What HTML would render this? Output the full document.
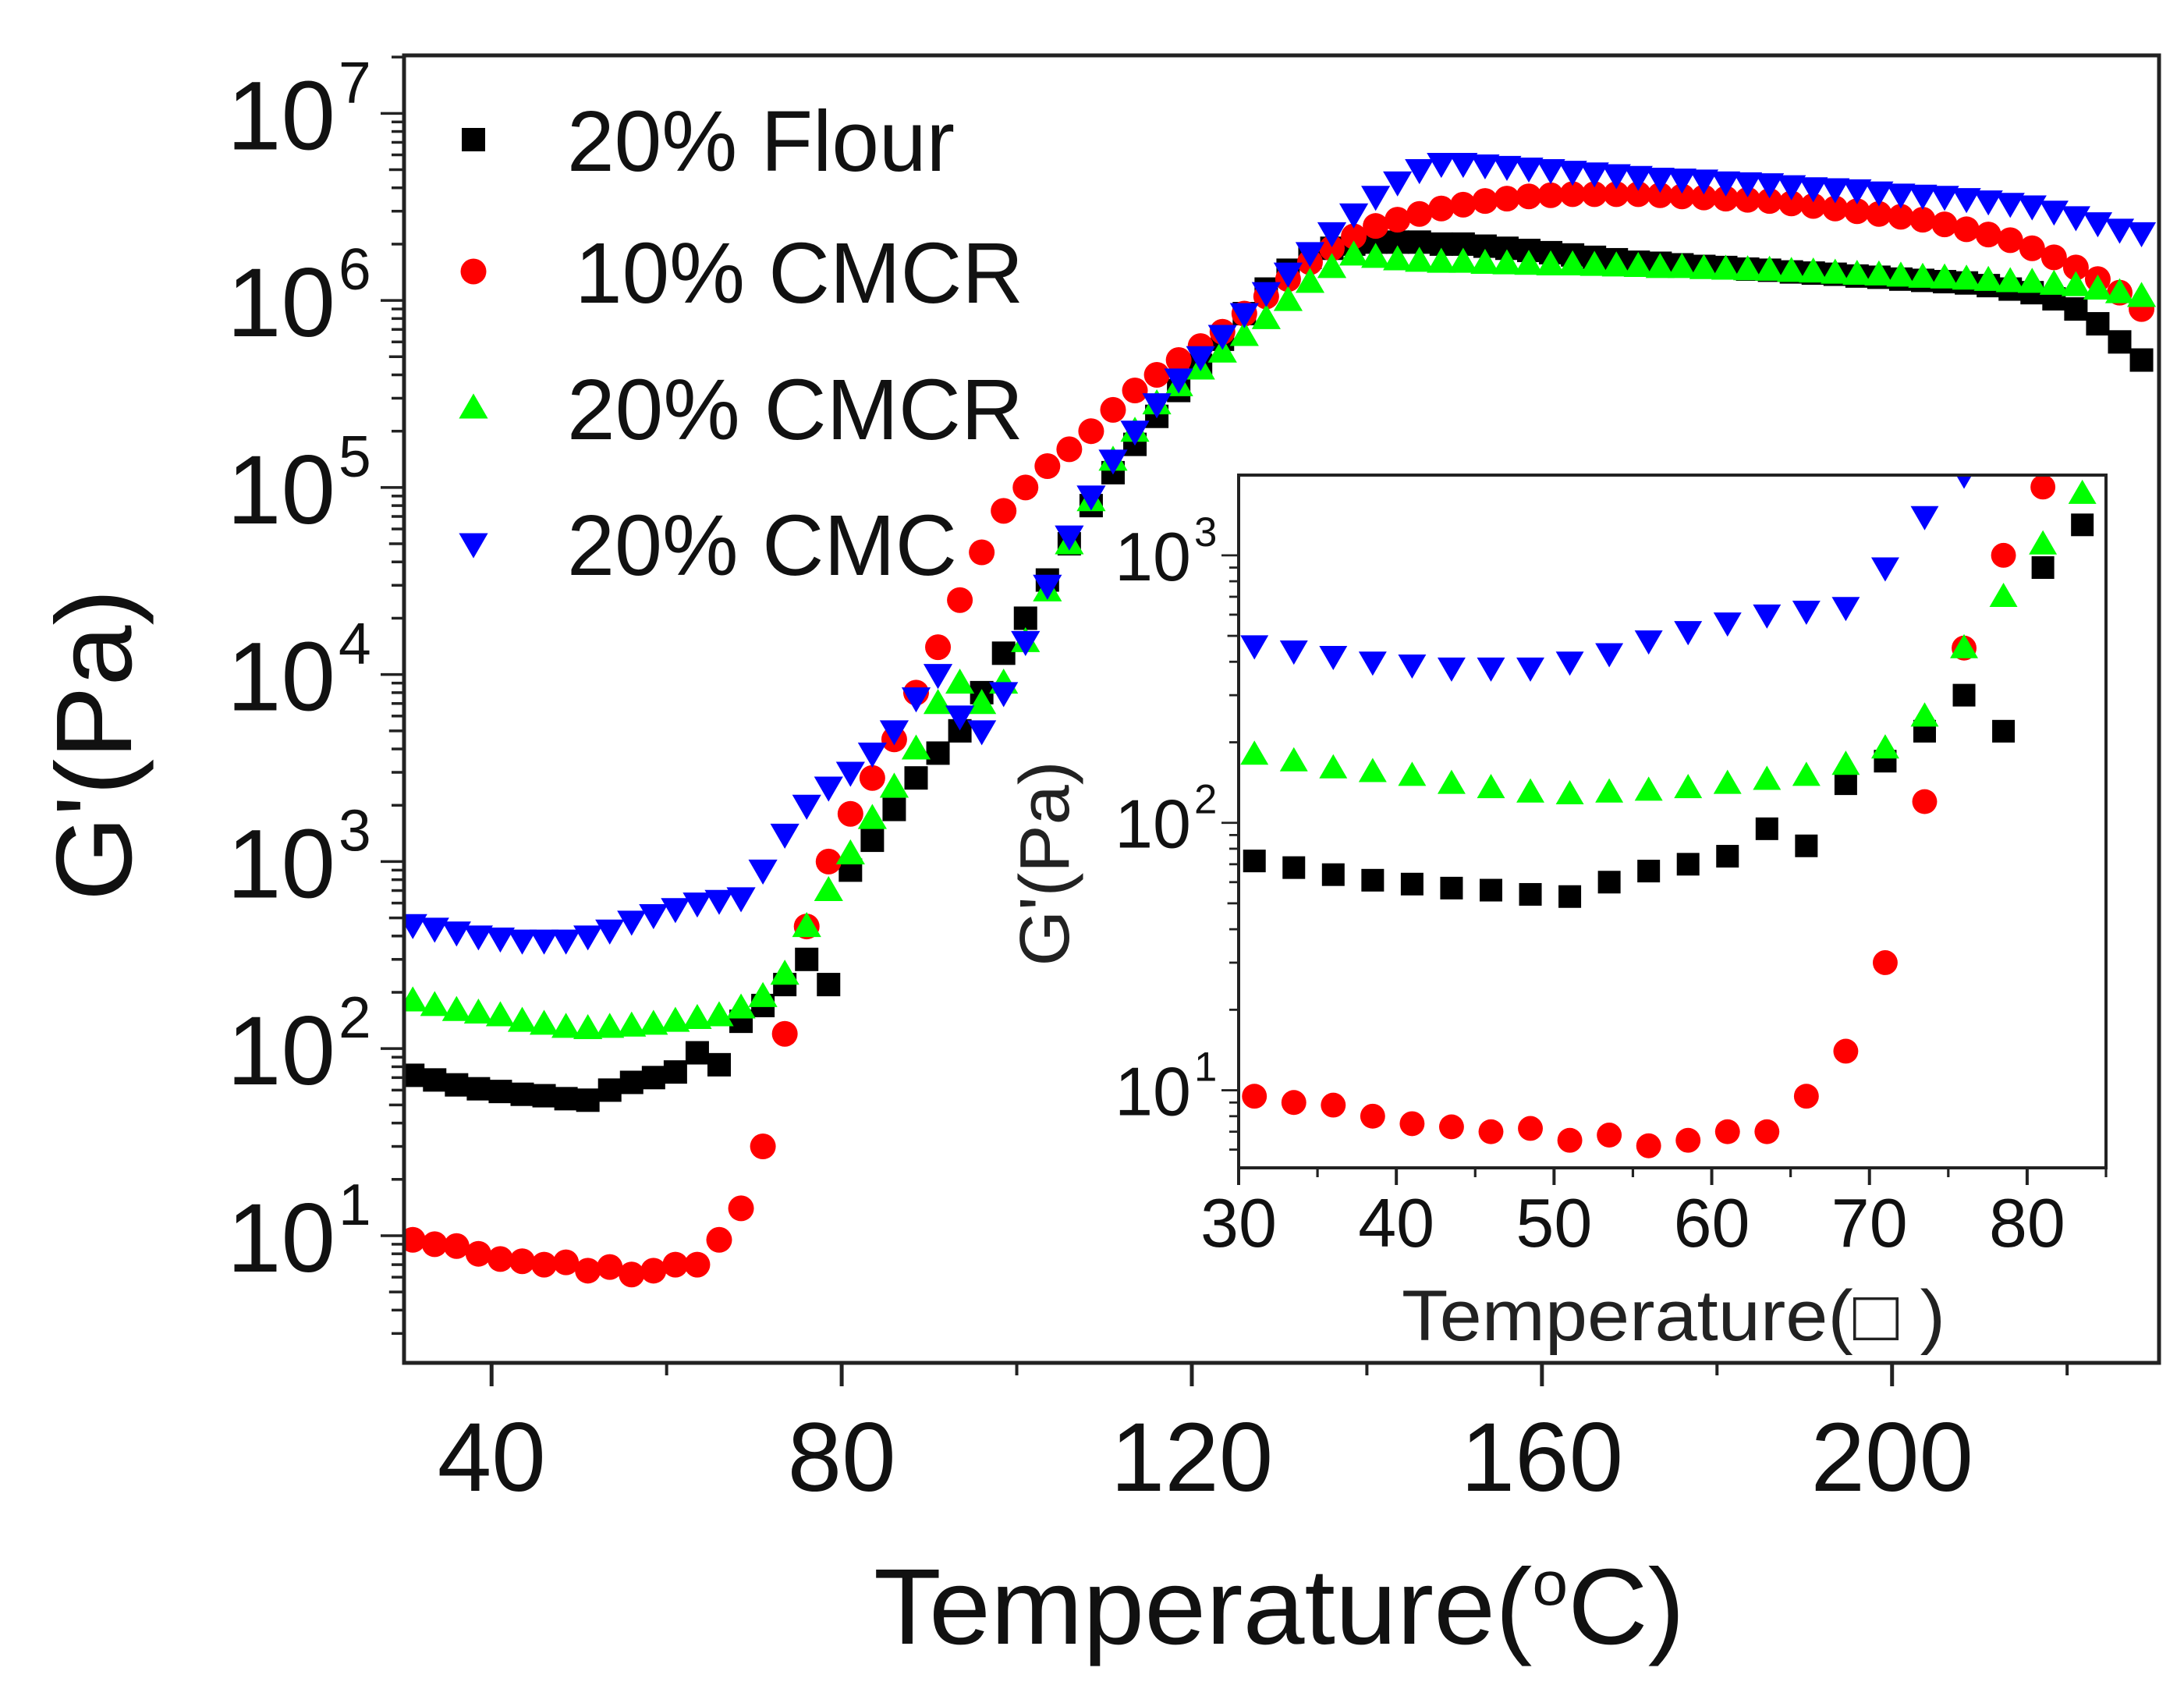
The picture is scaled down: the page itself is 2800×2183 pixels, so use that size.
<!DOCTYPE html>
<html><head><meta charset="utf-8"><style>
html,body{margin:0;padding:0;background:#fff}
svg{display:block;font-family:"Liberation Sans",Arial,sans-serif}
</style></head><body>
<svg id="chart" width="2800" height="2183" viewBox="0 0 2800 2183" xmlns="http://www.w3.org/2000/svg">
<rect width="2800" height="2183" fill="#fff"/>
<g id="main"></g>
<g id="inset"></g>
<g id="legend"></g>
</svg>
<script>
const temps = [];
for (let i = 0; i < 80; i++) temps.push(31 + 2.5 * i);
const seriesNames = ["20% Flour", "10% CMCR", "20% CMCR", "20% CMC"];
const flour = [72,68,64,61,59,57,56,54,53,60,66,70,75,95,82,140,170,220,300,220,900,1300,1900,2800,3800,5000,8000,13000,20000,32000,50000,80000,120000,170000,240000,330000,450000,620000,850000,1.15e6,1.45e6,1.7e6,1.9e6,2.0e6,2.05e6,2.05e6,2.05e6,2.0e6,2.0e6,1.95e6,1.9e6,1.85e6,1.8e6,1.75e6,1.7e6,1.65e6,1.6e6,1.58e6,1.55e6,1.52e6,1.5e6,1.47e6,1.45e6,1.42e6,1.4e6,1.38e6,1.35e6,1.33e6,1.3e6,1.28e6,1.26e6,1.24e6,1.2e6,1.15e6,1.1e6,1.02e6,9e5,7.5e5,6e5,4.8e5];
const cmcr10 = [9.5,9,8.8,8,7.5,7.3,7,7.2,6.5,6.8,6.2,6.5,7,7,9.5,14,30,120,450,1000,1800,2800,4500,8000,14000,25000,45000,75000,100000,130000,160000,200000,260000,330000,400000,480000,570000,680000,850000,1.05e6,1.3e6,1.6e6,1.9e6,2.2e6,2.5e6,2.7e6,2.9e6,3.1e6,3.25e6,3.4e6,3.5e6,3.6e6,3.65e6,3.7e6,3.7e6,3.7e6,3.7e6,3.65e6,3.6e6,3.55e6,3.5e6,3.45e6,3.4e6,3.3e6,3.2e6,3.1e6,3.0e6,2.9e6,2.8e6,2.7e6,2.55e6,2.4e6,2.25e6,2.1e6,1.9e6,1.7e6,1.5e6,1.3e6,1.1e6,9e5];
const cmcr20 = [180,170,160,155,150,140,135,130,128,130,132,135,140,145,150,165,190,250,450,700,1100,1700,2500,4000,7000,9000,7000,9000,15000,28000,50000,85000,140000,200000,280000,350000,430000,530000,650000,800000,1.0e6,1.25e6,1.5e6,1.75e6,1.7e6,1.65e6,1.62e6,1.6e6,1.6e6,1.58e6,1.57e6,1.56e6,1.55e6,1.55e6,1.54e6,1.53e6,1.52e6,1.5e6,1.5e6,1.48e6,1.47e6,1.46e6,1.45e6,1.43e6,1.42e6,1.4e6,1.38e6,1.37e6,1.35e6,1.33e6,1.32e6,1.3e6,1.28e6,1.26e6,1.25e6,1.22e6,1.2e6,1.15e6,1.1e6,1.05e6];
const cmc20 = [460,440,420,400,390,380,380,380,400,430,480,520,560,600,620,640,900,1400,2000,2500,3000,3800,5000,7500,10000,6000,5000,8000,15000,30000,55000,90000,140000,200000,280000,380000,500000,650000,850000,1.1e6,1.4e6,1.8e6,2.3e6,2.9e6,3.6e6,4.3e6,5.0e6,5.4e6,5.4e6,5.3e6,5.2e6,5.1e6,5.0e6,4.9e6,4.8e6,4.7e6,4.6e6,4.5e6,4.45e6,4.4e6,4.3e6,4.25e6,4.2e6,4.1e6,4.0e6,3.95e6,3.9e6,3.8e6,3.7e6,3.65e6,3.6e6,3.5e6,3.4e6,3.3e6,3.2e6,3.0e6,2.8e6,2.6e6,2.4e6,2.3e6];
const xTicksMain = [40, 80, 120, 160, 200];
const yDecadesMain = [1, 2, 3, 4, 5, 6, 7];
const xTicksInset = [30, 40, 50, 60, 70, 80];
const yDecadesInset = [1, 2, 3];

const NS = "http://www.w3.org/2000/svg";
function mk(tag, attrs, parent) {
  const e = document.createElementNS(NS, tag);
  for (const k in attrs) e.setAttribute(k, attrs[k]);
  parent.appendChild(e);
  return e;
}
const styles = [
  {fill: "#000000", shape: "square"},
  {fill: "#ff0000", shape: "circle"},
  {fill: "#00ff00", shape: "up"},
  {fill: "#0000ff", shape: "down"}
];
const allSeries = [flour, cmcr10, cmcr20, cmc20];

function marker(g, shape, x, y, s, fill) {
  let e;
  if (shape === "square") e = mk("rect", {x: x - s/2, y: y - s/2, width: s, height: s, fill: fill}, g);
  else if (shape === "circle") e = mk("circle", {cx: x, cy: y, r: s * 0.55, fill: fill}, g);
  else if (shape === "up") e = mk("polygon", {points: `${x},${y - s*0.62} ${x - s*0.62},${y + s*0.45} ${x + s*0.62},${y + s*0.45}`, fill: fill}, g);
  else e = mk("polygon", {points: `${x},${y + s*0.62} ${x - s*0.62},${y - s*0.45} ${x + s*0.62},${y - s*0.45}`, fill: fill}, g);
  return e;
}

function drawPanel(g, P, opt) {
  const xs = t => P.l + (t - P.x0) / (P.x1 - P.x0) * (P.r - P.l);
  const ys = v => P.b - (Math.log10(v) - P.y0) / (P.y1 - P.y0) * (P.b - P.t);
  const clipId = opt.prefix + "-clip";
  const defs = mk("defs", {}, g);
  const cp = mk("clipPath", {id: clipId}, defs);
  mk("rect", {x: P.l, y: P.t, width: P.r - P.l, height: P.b - P.t}, cp);
  const dg = mk("g", {"clip-path": `url(#${clipId})`}, g);
  
  
  allSeries.forEach((arr, si) => {
    const sg = mk("g", {}, dg);
    
    
    arr.forEach((v, i) => {
      const t = temps[i];
      if (t < P.x0 - 2 || t > P.x1 + 2) return;
      const m = marker(sg, styles[si].shape, xs(t), ys(v), opt.ms, styles[si].fill);
      
      
    });
  });
  const fr = mk("rect", {x: P.l, y: P.t, width: P.r - P.l, height: P.b - P.t, fill: "none", stroke: "#222", "stroke-width": opt.sw}, g);
  
  
  const xg = mk("g", {}, g);
  
  
  for (let t = opt.xMinorStart; t <= P.x1; t += opt.xMinorStep) {
    mk("line", {x1: xs(t), x2: xs(t), y1: P.b, y2: P.b + opt.minorLen, stroke: "#222", "stroke-width": opt.sw * 0.8}, xg);
  }
  opt.xTicks.forEach(t => {
    mk("line", {x1: xs(t), x2: xs(t), y1: P.b, y2: P.b + opt.majorLen, stroke: "#222", "stroke-width": opt.sw}, xg);
    const tx = mk("text", {x: xs(t), y: opt.xLabelY, "font-size": opt.xfs, "text-anchor": "middle", fill: "#111"}, xg);
    tx.textContent = t;
    
    
  });
  const yg = mk("g", {}, g);
  
  
  for (let d = Math.floor(P.y0); d < P.y1; d++) {
    for (let k = 1; k <= 9; k++) {
      const lv = d + Math.log10(k);
      if (lv < P.y0 || lv > P.y1) continue;
      const len = k === 1 ? opt.majorLen : (k === 5 ? opt.minorLen * 1.2 : opt.minorLen);
      mk("line", {x1: P.l - len, x2: P.l, y1: ys(Math.pow(10, lv)), y2: ys(Math.pow(10, lv)), stroke: "#222", "stroke-width": opt.sw * 0.7}, yg);
    }
  }
  opt.yDecades.forEach(d => {
    const y = ys(Math.pow(10, d));
    const tx = mk("text", {x: opt.yLabelX, y: y + opt.yBaseOff, "font-size": opt.yfs, "text-anchor": "end", fill: "#111"}, yg);
    tx.textContent = "10";
    
    
    const sp = mk("text", {x: opt.yLabelX + 4, y: y + opt.supOff, "font-size": opt.yfs * 0.6, fill: "#111"}, yg);
    sp.textContent = d;
    
    
  });
}

const mainG = document.getElementById("main");


drawPanel(mainG, {l: 518, r: 2768, t: 71, b: 1747, x0: 30, x1: 230.5, y0: 0.32, y1: 7.31},
  {prefix: "main", ms: 30, sw: 5, xMinorStart: 40, xMinorStep: 20, xTicks: xTicksMain, minorLen: 16, majorLen: 30,
   xLabelY: 1911, xfs: 125, yDecades: yDecadesMain, yLabelX: 430, yBaseOff: 46, supOff: -14, yfs: 125});

const insetG = document.getElementById("inset");


mk("rect", {x: 1588, y: 609, width: 1112, height: 888, fill: "#fff"}, insetG);
drawPanel(insetG, {l: 1588, r: 2700, t: 609, b: 1497, x0: 30, x1: 85, y0: 0.71, y1: 3.3},
  {prefix: "inset", ms: 29, sw: 4, xMinorStart: 35, xMinorStep: 5, xTicks: xTicksInset, minorLen: 12, majorLen: 22,
   xLabelY: 1598, xfs: 88, yDecades: yDecadesInset, yLabelX: 1527, yBaseOff: 32, supOff: -12, yfs: 88});

function txt(parent, attrs, s, name) {
  const e = mk("text", attrs, parent);
  e.textContent = s;
  
  
  return e;
}
const svg = document.getElementById("chart");
const xt = txt(svg, {x: 1120, y: 2107, "font-size": 138, fill: "#111", textLength: 1040, lengthAdjust: "spacingAndGlyphs"}, "", 'x-axis-title');
xt.innerHTML = 'Temperature(<tspan dy="-50" font-size="80">o</tspan><tspan dy="50">C)</tspan>';
txt(svg, {x: 0, y: 0, "font-size": 138, fill: "#111", transform: "translate(168,955) rotate(-90)", "text-anchor": "middle", textLength: 400, lengthAdjust: "spacingAndGlyphs"}, "G'(Pa)", 'y-axis-title');
txt(svg, {x: 1797, y: 1718, "font-size": 92, fill: "#222", textLength: 697, lengthAdjust: "spacingAndGlyphs"}, "Temperature(\u25A1 )", 'inset-x-axis-title');
txt(svg, {x: 0, y: 0, "font-size": 90, fill: "#222", transform: "translate(1370,1107) rotate(-90)", "text-anchor": "middle", textLength: 263, lengthAdjust: "spacingAndGlyphs"}, "G'(Pa)", 'inset-y-axis-title');

const lg = document.getElementById("legend");
const legY = [179, 348, 523, 697];
const legW = [497, 575, 585, 500];
seriesNames.forEach((n, i) => {
  const e = mk("g", {}, lg);
  
  
  marker(e, styles[i].shape, 607, legY[i], 30, styles[i].fill);
  txt(e, {x: i === 1 ? 737 : 727, y: legY[i] + 40, "font-size": 110, fill: "#111", textLength: legW[i], lengthAdjust: "spacingAndGlyphs"}, n, 'legend-label');
});
</script>
</body></html>
